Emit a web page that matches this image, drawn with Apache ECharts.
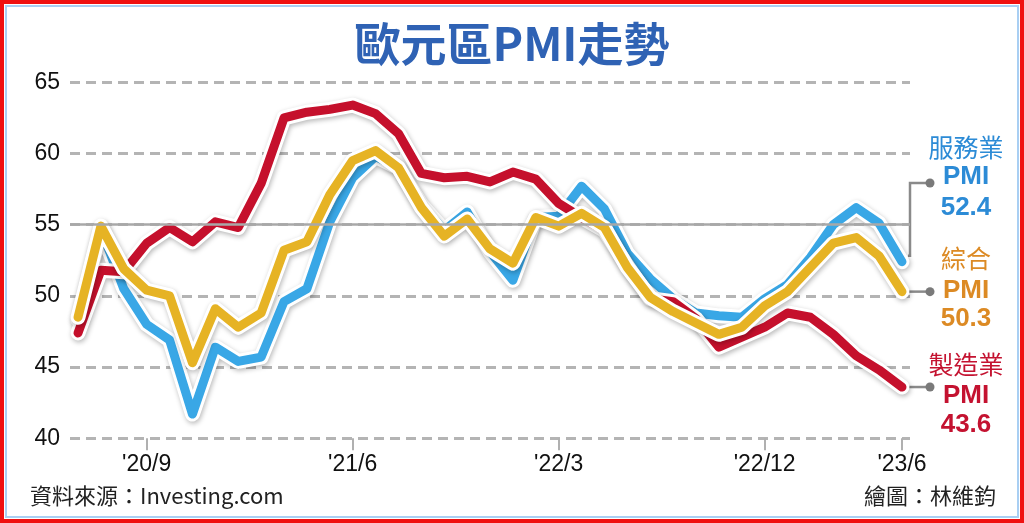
<!DOCTYPE html>
<html><head><meta charset="utf-8">
<script src="https://cdn.jsdelivr.net/npm/echarts@6/dist/echarts.min.js"></script>
<style>html,body{margin:0;padding:0;background:#fff}#c{width:1024px;height:523px}</style>
</head><body><div id="c"></div>
<script>
const months = ['20/6','20/7','20/8','20/9','20/10','20/11','20/12',
 '21/1','21/2','21/3','21/4','21/5','21/6','21/7','21/8','21/9','21/10','21/11','21/12',
 '22/1','22/2','22/3','22/4','22/5','22/6','22/7','22/8','22/9','22/10','22/11','22/12',
 '23/1','23/2','23/3','23/4','23/5','23/6'];
const services = [48.3,54.7,50.5,48.0,46.9,41.7,46.4,
 45.4,45.7,49.6,50.5,55.2,58.3,59.8,59.0,56.4,54.6,55.9,53.1,
 51.1,55.5,55.6,57.7,56.1,53.0,51.2,49.8,48.8,48.6,48.5,49.8,
 50.8,52.7,55.0,56.2,55.1,52.4];
const manufacturing = [47.4,51.8,51.7,53.7,54.8,53.8,55.2,
 54.8,57.9,62.5,62.9,63.1,63.4,62.8,61.4,58.6,58.3,58.4,58.0,
 58.7,58.2,56.5,55.5,54.6,52.1,49.8,49.6,48.4,46.4,47.1,47.8,
 48.8,48.5,47.3,45.8,44.8,43.6];
const composite = [48.5,54.9,51.9,50.4,50.0,45.3,49.1,
 47.8,48.8,53.2,53.8,57.1,59.5,60.2,59.0,56.2,54.2,55.4,53.3,
 52.3,55.5,54.9,55.8,54.8,52.0,49.9,48.9,48.1,47.3,47.8,49.3,
 50.3,52.0,53.7,54.1,52.8,50.3];
const tickMonths = ['20/9','21/6','22/3','22/12','23/6'];
const yTicks = [40,45,50,55,60,65];

const tickIdx = tickMonths.map(m => months.indexOf(m));
const pairs = arr => arr.map((v,i)=>[i,v]);
const FONT_NUM = "'Liberation Sans',sans-serif";
const FONT_CJK = "'Noto Sans CJK TC','Noto Sans',sans-serif";

const palette = {services:'#39a7e6', manufacturing:'#c5102c', composite:'#e6b324'};

function mk(name, data, color) {
  return [
    {type:'line', name:name+'_o', data:pairs(data), symbol:'none', silent:true,
     lineStyle:{width:15, color:'#fff', cap:'round', join:'round',
       shadowColor:'rgba(0,0,0,0.28)', shadowBlur:5, shadowOffsetY:2, shadowOffsetX:1}, z:3},
    {type:'line', name:name, data:pairs(data), symbol:'none',
     lineStyle:{width:9, color:color, cap:'round', join:'round'}, z:3}
  ];
}

const chart = echarts.init(document.getElementById('c'), null, {renderer:'canvas'});
const option = {
  animation:false,
  backgroundColor:'#fff',
  title:{text:'歐元區PMI走勢', left:'center', top:16,
    textStyle:{fontFamily:FONT_CJK, fontSize:46, fontWeight:'bold', color:'#2f62b4'}},
  grid:{left:70, right:114, top:82.3, bottom:84.7},
  xAxis:{type:'value', min:-0.35, max:36.35,
    axisLine:{show:false}, splitLine:{show:false},
    axisTick:{show:true, customValues:tickIdx, length:12, lineStyle:{color:'#b0b0b0', width:2}},
    axisLabel:{customValues:tickIdx, margin:15, formatter:v=>"'"+months[Math.round(v)],
      fontFamily:FONT_NUM, fontSize:23, color:'#111'}},
  yAxis:{type:'value', min:40, max:65, interval:5,
    axisLine:{show:false}, axisTick:{show:false},
    axisLabel:{margin:10, fontFamily:FONT_NUM, fontSize:23, color:'#111'},
    splitLine:{lineStyle:{type:[10,6], color:'#b4b4b4', width:3}}},
  series:[
    {type:'line', data:[], markLine:{silent:true, symbol:'none', label:{show:false},
      lineStyle:{type:'solid', color:'#a8a8a8', width:2.5}, data:[{yAxis:55}]}, z:2},
    ...mk('services', services, palette.services),
    ...mk('manufacturing', manufacturing, palette.manufacturing),
    ...mk('composite', composite, palette.composite)
  ]
};
chart.setOption(option);

// annotations at the right end
const last = months.length-1;
const P = v => chart.convertToPixel({gridIndex:0}, [last, v]);
const ps = P(services[last]), pc = P(composite[last]), pm = P(manufacturing[last]);
const gx = 910, dotX = 930;
const sDotY = 183;
const g = [];
const lineStyle = {stroke:'#8a8a8a', lineWidth:2.5};
g.push({type:'polyline', shape:{points:[[ps[0]+6, ps[1]-6],[gx, ps[1]-6],[gx, sDotY],[dotX, sDotY]]}, style:Object.assign({fill:null},lineStyle), z:1});
g.push({type:'line', shape:{x1:pc[0]+6, y1:pc[1], x2:dotX, y2:pc[1]}, style:lineStyle, z:1});
g.push({type:'line', shape:{x1:pm[0]+6, y1:pm[1], x2:dotX, y2:pm[1]}, style:lineStyle, z:1});
[[dotX,sDotY],[dotX,pc[1]],[dotX,pm[1]]].forEach(p=>g.push({type:'circle', shape:{cx:p[0], cy:p[1], r:4.5}, style:{fill:'#7a7a7a'}, z:5}));

function txt(x,y,text,color,size,bold,font){
  g.push({type:'text', x:x, y:y, style:{text:text, fill:color, font:(bold?'bold ':'')+size+'px '+font, align:'center', verticalAlign:'middle'}, z:5});
}
const cx = 966;
txt(cx,147,'服務業','#2c8bd6',25,false,FONT_CJK);
txt(cx,177,'PMI','#2c8bd6',26,true,FONT_NUM);
txt(cx,208,services[last].toFixed(1),'#2c8bd6',26,true,FONT_NUM);
txt(cx,258,'綜合','#dc8a24',25,false,FONT_CJK);
txt(cx,291,'PMI','#dc8a24',26,true,FONT_NUM);
txt(cx,319,composite[last].toFixed(1),'#dc8a24',26,true,FONT_NUM);
txt(cx,364,'製造業','#c41230',25,false,FONT_CJK);
txt(cx,396,'PMI','#c41230',26,true,FONT_NUM);
txt(cx,425,manufacturing[last].toFixed(1),'#c41230',26,true,FONT_NUM);

// footer
g.push({type:'text', x:30, y:496, style:{text:'資料來源：Investing.com', fill:'#222', font:"22px "+FONT_CJK, verticalAlign:'middle'}, z:5});
g.push({type:'text', x:996, y:496, style:{text:'繪圖：林維鈞', fill:'#222', font:"22px "+FONT_CJK, align:'right', verticalAlign:'middle'}, z:5});

// frame
g.push({type:'rect', shape:{x:6, y:6, width:1012, height:511}, style:{fill:null, stroke:'#a9cff3', lineWidth:2}, z:6});
g.push({type:'rect', shape:{x:2, y:2, width:1020, height:519}, style:{fill:null, stroke:'#f01010', lineWidth:4}, z:6});

chart.setOption({graphic:g});
</script></body></html>
